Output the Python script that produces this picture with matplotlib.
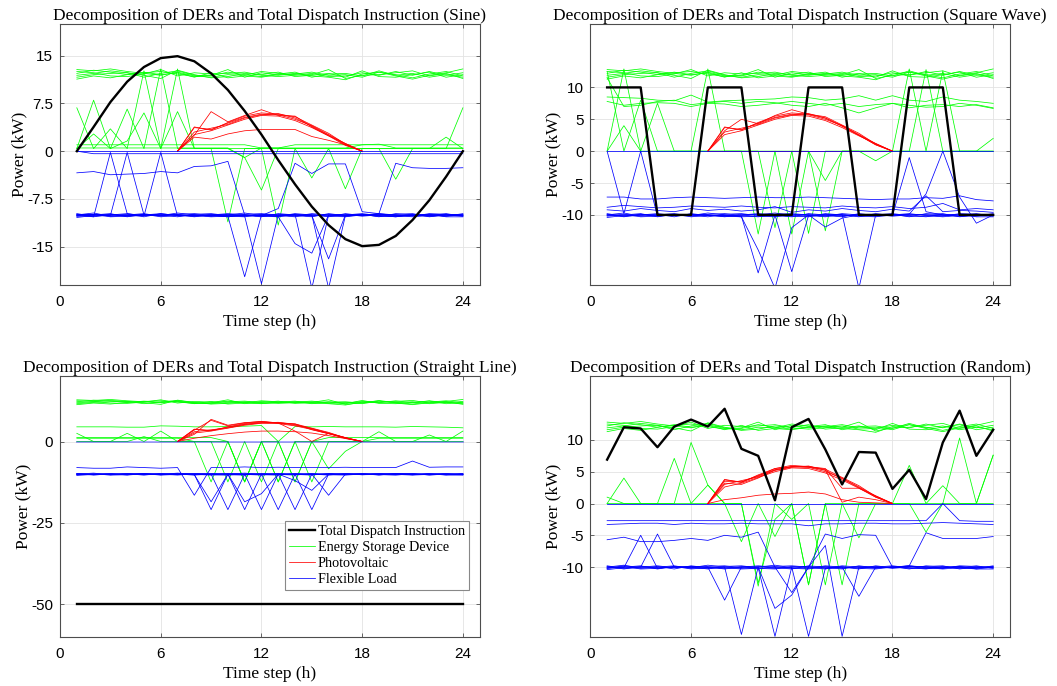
import matplotlib
matplotlib.use('Agg')
import matplotlib.pyplot as plt
from matplotlib.lines import Line2D

plt.rcParams['font.family'] = 'Liberation Serif'
plt.rcParams['axes.unicode_minus'] = False

# --- dane: godziny ---
HOURS = list(range(1, 25))
PV_HOURS = list(range(7, 19))

# --- wspolne pasma ESD (~12 kW) i FL (~-10 kW) ---
GREEN_BAND_1 = [12.8, 12.6, 12.9, 12.5, 12.2, 11.9, 12.4, 11.8, 11.6, 12.0, 11.9, 12.5, 12.2, 12.0, 11.8, 11.6, 11.2, 12.1, 12.4, 11.8, 11.3, 11.9, 12.3, 12.9]
GREEN_BAND_2 = [12.2, 12.7, 12.4, 12.0, 12.3, 12.5, 12.1, 11.7, 11.9, 12.8, 11.6, 12.3, 11.9, 12.2, 12.0, 12.8, 11.4, 11.9, 12.0, 12.3, 12.6, 11.8, 12.2, 11.4]
GREEN_BAND_3 = [11.6, 12.0, 12.2, 12.3, 11.9, 11.4, 12.7, 12.0, 11.5, 11.7, 12.2, 12.0, 12.4, 11.7, 11.9, 12.2, 11.6, 12.6, 11.7, 11.6, 12.0, 12.4, 11.6, 12.0]
GREEN_BAND_4 = [11.3, 11.8, 11.5, 12.0, 12.4, 12.0, 12.3, 11.6, 12.3, 11.5, 11.8, 11.6, 12.0, 12.1, 12.4, 11.9, 12.0, 11.6, 12.4, 12.0, 11.5, 12.1, 12.5, 11.8]
GREEN_BAND_5 = [12.5, 12.3, 11.8, 11.7, 12.1, 12.8, 11.8, 12.3, 12.1, 12.2, 12.4, 11.9, 11.7, 11.9, 12.2, 11.7, 11.8, 12.3, 11.9, 12.5, 11.9, 12.5, 11.9, 12.3]
GREEN_BAND_6 = [11.9, 12.2, 12.6, 12.3, 11.6, 12.2, 12.6, 11.9, 11.8, 12.4, 12.0, 11.7, 12.1, 12.4, 11.6, 12.1, 12.2, 11.8, 12.6, 11.9, 12.2, 11.6, 12.0, 11.6]

BLUE_BAND_1 = [-10.2, -10.0, -9.8, -10.3, -9.9, -10.1, -9.7, -10.0, -10.2, -9.9, -10.1, -10.3, -9.8, -10.0, -10.2, -9.9, -10.0, -9.8, -10.1, -10.3, -9.9, -10.0, -10.2, -9.8]
BLUE_BAND_2 = [-9.8, -10.2, -10.1, -9.9, -10.3, -9.8, -10.1, -10.2, -9.9, -10.0, -9.7, -10.1, -10.2, -9.8, -10.0, -10.3, -9.8, -10.1, -9.9, -10.0, -10.2, -9.8, -9.9, -10.1]
BLUE_BAND_3 = [-10.0, -9.7, -10.2, -10.0, -9.8, -10.2, -9.9, -9.8, -10.1, -10.3, -9.9, -9.8, -10.0, -10.2, -9.8, -10.0, -10.2, -9.9, -10.3, -9.8, -10.0, -10.2, -10.1, -9.9]
BLUE_BAND_4 = [-10.4, -10.1, -10.0, -9.8, -10.1, -10.0, -10.3, -9.9, -9.8, -10.1, -10.2, -10.0, -9.9, -10.1, -10.3, -9.8, -10.1, -10.0, -9.8, -10.1, -10.3, -10.1, -9.8, -10.2]
BLUE_BAND_5 = [-9.9, -10.3, -9.9, -10.1, -10.0, -9.9, -10.0, -10.3, -10.0, -9.8, -10.0, -10.2, -10.3, -9.9, -10.1, -10.1, -9.9, -10.2, -10.0, -9.9, -9.8, -10.3, -10.0, -10.0]
BLUE_BAND_6 = [-10.1, -9.9, -10.3, -10.2, -9.9, -10.3, -10.1, -10.1, -10.3, -10.2, -10.3, -9.9, -10.1, -10.3, -9.9, -10.2, -10.3, -10.0, -10.2, -10.2, -10.1, -9.9, -10.3, -10.3]
BLUE_ZERO = [0.0, 0.0, 0.0, 0.0, 0.0, 0.0, 0.0, 0.0, 0.0, 0.0, 0.0, 0.0, 0.0, 0.0, 0.0, 0.0, 0.0, 0.0, 0.0, 0.0, 0.0, 0.0, 0.0, 0.0]

# --- wspolne krzywe PV (godz. 7-18) ---
PV_1 = [0.0, 3.7, 3.4, 4.4, 5.3, 5.8, 5.7, 5.0, 4.0, 2.6, 1.2, 0.0]
PV_2 = [0.0, 3.8, 3.3, 4.5, 5.5, 6.0, 5.8, 5.4, 4.1, 2.8, 1.1, 0.0]
PV_3 = [0.0, 3.0, 3.6, 4.2, 5.2, 5.7, 5.9, 5.2, 3.9, 2.5, 1.0, 0.0]
PV_4 = [0.0, 2.6, 3.2, 4.1, 5.0, 5.6, 5.5, 4.8, 3.7, 2.4, 1.2, 0.0]

# --- Sine ---
SINE_DISPATCH = [0.0, 3.8, 7.7, 10.9, 13.2, 14.6, 14.9, 14.1, 12.2, 9.6, 6.3, 2.6, -1.4, -5.2, -8.7, -11.6, -13.8, -14.9, -14.7, -13.3, -10.8, -7.7, -4.0, 0.0]
SINE_G1 = [6.8, 0.4, 3.5, 0.4, 12.6, 0.4, 6.2, 0.4, 0.4, 0.4, 0.4, 0.4, 0.4, 0.4, 0.4, 0.4, 0.4, 0.4, 0.4, 0.4, 0.4, 0.4, 2.2, 0.4]
SINE_G2 = [0.4, 8.0, 0.4, 6.6, 0.4, 12.9, 0.4, 0.4, 0.4, -11.1, 0.4, 0.4, -11.6, 0.4, 0.4, 0.4, 0.4, 0.4, 0.4, 0.4, 0.4, 0.4, 0.4, 6.8]
SINE_G3 = [0.4, 2.7, 0.4, 1.6, 6.0, 0.4, 12.9, 0.4, 0.4, 0.4, -1.0, -6.1, 0.4, 0.4, -4.2, 0.4, -5.9, 0.4, 0.4, -4.4, 0.4, 0.4, 0.4, 0.4]
SINE_G4 = [1.0, 1.0, 1.0, 1.0, 1.0, 1.0, 1.0, 1.0, 1.0, 1.0, 1.0, 0.5, 0.5, 1.0, 1.0, 1.0, 1.0, 1.0, 1.0, 1.0, 1.0, 1.0, 1.0, 1.0]
SINE_G5 = [0.5, 0.5, 0.5, 0.5, 0.5, 0.5, 0.5, 0.5, 0.5, 0.5, -1.0, 0.5, 0.5, 0.5, 0.5, 0.5, 0.5, 1.0, 1.1, 0.5, 0.5, 0.5, 0.5, 0.5]
SINE_PV_A = [0.0, 2.5, 6.2, 4.6, 5.6, 6.5, 5.6, 5.5, 3.8, 2.4, 0.9, 0.0]
SINE_PV_B = [0.0, 2.2, 1.9, 2.7, 3.2, 3.4, 3.4, 3.4, 2.3, 1.7, 1.0, 0.0]
SINE_B1 = [-3.4, -3.2, -3.7, -3.6, -3.5, -3.2, -3.4, -2.4, -2.3, -1.6, -10.0, -10.1, -9.0, -1.9, -3.5, -2.0, -2.0, -9.5, -9.8, -1.9, -2.6, -2.7, -2.7, -2.6]
SINE_B2 = [-10.1, -10.3, -0.2, -9.8, -10.2, -0.2, -10.2, -10.0, -10.1, -10.2, -19.7, -10.0, -10.3, -14.5, -16.0, -10.0, -10.1, -10.0, -10.2, -10.1, -10.0, -10.2, -10.0, -10.1]
SINE_B3 = [-9.9, -10.0, -10.1, -0.2, -10.0, -10.1, -9.9, -10.2, -10.0, -10.1, -10.2, -20.8, -10.0, -9.9, -21.5, -10.0, -10.2, -10.0, -9.9, -10.2, -10.1, -10.0, -10.2, -10.0]
SINE_B4 = [-10.0, -9.9, -10.2, -10.1, -10.0, -9.8, -10.1, -10.0, -10.2, -10.0, -10.1, -10.0, -10.2, -10.0, -10.1, -16.9, -10.0, -10.1, -9.8, -10.0, -10.1, -9.9, -10.0, -10.2]
SINE_B5 = [-10.2, -10.0, -9.9, -10.2, -10.1, -10.0, -10.0, -10.1, -10.0, -10.3, -10.0, -10.2, -10.1, -10.0, -10.0, -21.5, -10.1, -9.9, -10.1, -10.3, -10.0, -10.1, -9.9, -10.0]
SINE_B6 = [0.0, -0.4, -0.4, -0.4, -0.4, -0.4, -0.4, -0.4, -0.4, -0.4, -0.4, -0.4, -0.4, -0.4, -0.4, -0.4, -0.4, -0.4, -0.4, -0.4, -0.4, -0.4, -0.4, -0.4]

# --- Square Wave ---
SQ_DISPATCH = [10, 10, 10, -10, -10, -10, 10, 10, 10, -10, -10, -10, 10, 10, 10, -10, -10, -10, 10, 10, 10, -10, -10, -10]
SQ_G_MID1 = [8.5, 8.4, 8.3, 8.0, 7.9, 8.8, 7.7, 7.9, 8.0, 8.1, 8.2, 8.5, 8.4, 8.0, 8.2, 8.7, 8.0, 8.7, 8.0, 7.8, 8.5, 8.0, 7.8, 7.5]
SQ_G_MID2 = [7.8, 7.2, 7.5, 7.6, 7.5, 7.0, 7.5, 7.4, 7.0, 7.2, 7.5, 7.8, 7.5, 7.2, 7.5, 7.0, 7.3, 7.5, 6.8, 7.2, 7.3, 7.0, 7.3, 6.8]
SQ_G_MID3 = [11.5, 7.0, 7.2, 7.8, 8.0, 7.3, 7.6, 7.8, 7.5, 7.8, 7.6, 7.2, 7.0, 7.5, 6.8, 6.0, 6.8, 7.5, 7.2, 6.9, 7.0, 7.5, 7.2, 6.7]
SQ_G1 = [0.0, 12.9, 0.0, 0.0, 0.0, 0.0, 12.9, 0.0, 0.0, -13.0, 0.0, 0.0, 0.0, -4.6, 0.0, 0.0, 0.0, 0.0, 12.9, 0.0, 12.6, 0.0, 0.0, 2.0]
SQ_G2 = [0.0, 4.0, 0.0, 7.5, 0.0, 0.0, 0.0, 0.0, 0.0, 0.0, -12.0, 0.0, -12.9, 0.0, 0.0, 0.0, -1.5, 0.0, 0.0, 0.0, 0.0, 0.0, 0.0, 0.0]
SQ_G3 = [12.5, 0.0, 8.0, 0.0, 0.0, 0.0, 0.0, 0.0, 0.0, 0.0, 0.0, -13.0, 0.0, -12.5, 0.0, 0.0, 0.0, 0.0, 0.0, 12.8, 0.0, 0.0, 0.0, 0.0]
SQ_PV_A = [0.0, 3.2, 5.0, 4.3, 5.6, 6.5, 5.8, 5.2, 4.0, 2.5, 1.0, 0.0]
SQ_PV_B = [0.0, 0.0, 0.0, 0.0, 0.0, 0.0, 0.0, 0.0, 0.0, 0.0, 0.0, 0.0]
SQ_B1 = [0.0, -9.8, 0.0, -10.2, -10.0, -9.9, -10.0, -10.1, -10.2, -19.1, -10.0, -18.9, -10.1, -10.0, -9.9, -21.5, -10.0, -10.1, -1.0, -9.5, -10.0, -10.2, -10.1, -10.0]
SQ_B2 = [-10.0, -10.2, -9.9, -10.1, -10.0, -10.0, -10.1, -10.2, -10.3, -15.5, -21.5, -12.0, -10.0, -11.9, -10.5, -10.0, -10.1, -10.0, -9.9, -6.7, 0.0, -7.2, -11.3, -10.0]
SQ_B3 = [-7.2, -7.2, -7.5, -7.5, -7.3, -7.2, -7.3, -7.4, -7.3, -7.2, -7.3, -7.3, -7.2, -7.3, -7.4, -7.5, -7.6, -7.5, -7.5, -7.3, -7.4, -7.0, -7.6, -7.8]
SQ_B4 = [-8.8, -8.5, -8.7, -8.9, -8.8, -8.6, -8.7, -8.8, -8.6, -8.8, -8.9, -8.7, -8.8, -8.9, -8.6, -8.8, -8.9, -8.7, -9.0, -8.8, -8.2, -9.2, -9.0, -9.2]
SQ_B5 = [-9.2, -9.4, -9.0, -9.3, -9.5, -9.0, -9.3, -9.1, -9.4, -9.2, -8.7, -9.6, -9.2, -9.4, -9.0, -9.3, -9.5, -9.1, -9.4, -7.0, -9.5, -9.3, -9.4, -9.6]

# --- Straight Line ---
ST_DISPATCH = [-50, -50, -50, -50, -50, -50, -50, -50, -50, -50, -50, -50, -50, -50, -50, -50, -50, -50, -50, -50, -50, -50, -50, -50]
ST_G1 = [2.5, 0.0, 0.0, 2.5, 0.0, 3.2, 0.0, 0.0, -12.4, 0.0, -12.4, 0.0, -12.4, 0.0, 0.0, 0.0, 0.0, 0.0, 3.0, 0.0, 0.0, 2.0, 0.0, 3.2]
ST_G2 = [1.0, 1.0, 1.0, 1.0, 1.0, 1.0, 1.0, 0.0, 0.0, -12.4, 0.0, -12.4, 0.0, -12.4, 0.0, -8.4, -3.0, 0.0, 1.0, 1.0, 1.0, 1.0, 1.0, 1.0]
ST_G3 = [4.5, 4.5, 4.5, 4.4, 4.4, 4.8, 4.7, 4.5, 4.5, 4.6, 4.7, 4.9, 0.0, 4.6, 4.5, 4.6, 4.5, 4.5, 4.5, 4.4, 4.6, 4.5, 4.4, 4.2]
ST_G4 = [0.0, 0.0, 0.0, 0.0, 1.5, 0.0, 0.0, 0.0, 0.0, 0.0, -12.4, 0.0, -12.4, 0.0, -12.4, 0.0, 0.0, 0.0, 0.0, 0.0, 0.0, 0.0, 0.0, 0.0]
ST_G5 = [1.2, 1.2, 1.2, 1.2, 1.2, 1.2, 1.2, 1.2, 1.2, 0.0, -12.4, 0.0, 0.0, -12.4, 0.0, 1.2, 1.2, 1.2, 1.2, 1.2, 1.2, 1.2, 1.2, 1.2]
ST_PV_A = [0.0, 2.2, 6.8, 5.0, 5.8, 6.1, 5.6, 5.4, 3.6, 2.4, 1.0, 0.0]
ST_PV_B = [0.0, 3.5, 6.5, 4.8, 5.7, 6.2, 5.7, 3.2, 0.0, 2.5, 1.2, 0.0]
ST_PV_C = [0.0, 1.0, 1.8, 2.4, 2.9, 3.2, 3.2, 3.0, 2.6, 1.8, 0.9, 0.0]
ST_B1 = [-8.0, -8.2, -8.2, -7.8, -8.0, -8.2, -8.0, -16.5, -8.0, -8.0, -7.8, -8.0, -7.9, -8.0, -8.0, -8.0, -7.9, -8.0, -8.0, -8.0, -6.0, -7.9, -7.8, -7.8]
ST_B2 = [-10.0, -10.1, -10.2, -9.9, -10.0, -10.2, -10.0, -10.1, -20.9, -10.0, -20.9, -10.0, -20.9, -10.0, -20.9, -10.0, -10.1, -10.0, -10.2, -10.0, -10.1, -10.2, -10.0, -10.1]
ST_B3 = [-10.2, -10.0, -10.1, -10.2, -9.9, -10.0, -10.1, -10.0, -10.0, -20.9, -10.0, -20.9, -10.0, -20.9, -10.0, -16.5, -10.0, -10.2, -10.1, -10.0, -10.2, -10.0, -10.2, -10.0]
ST_B4 = [-9.9, -10.1, -10.0, -10.1, -10.2, -10.1, -9.9, -10.2, -18.5, -10.0, -18.5, -16.0, -10.0, -12.0, -15.0, -10.0, -10.0, -10.1, -10.0, -9.9, -10.0, -10.1, -10.1, -10.2]

# --- Random ---
RD_DISPATCH = [6.9, 12.0, 11.8, 8.85, 12.1, 13.2, 12.1, 14.9, 8.6, 7.5, 0.5, 12.0, 13.3, 8.5, 3.0, 8.1, 8.0, 2.3, 5.3, 0.7, 9.6, 14.6, 7.5, 11.6]
RD_G1 = [1.0, 0.0, 0.0, 0.0, 7.1, 0.0, 2.9, 0.0, -6.0, 0.0, -5.2, 0.0, -12.8, 0.0, 0.0, -5.4, 0.0, 0.0, 6.0, 0.0, 2.8, 0.0, 0.0, 7.6]
RD_G2 = [0.0, 4.0, 0.0, 0.0, 0.0, 9.6, 2.9, 0.0, 0.0, -13.0, 0.0, -2.5, 0.0, -12.8, 0.0, 0.0, 0.0, 0.0, 0.0, -4.5, 0.0, 10.3, 0.0, 7.6]
RD_G3 = [0.0, 0.0, 0.0, 0.0, 0.0, 0.0, 0.0, 0.0, 0.0, -12.5, -2.5, 0.0, -12.8, 0.0, -12.8, 0.0, 0.0, 0.0, 0.0, 0.0, 0.0, 0.0, 0.0, 0.0]
RD_PV_A = [0.0, 0.6, 0.9, 1.3, 1.5, 1.6, 1.8, 1.5, 0.6, 0.2, 0.1, 0.0]
RD_PV_B = [0.0, 3.5, 3.4, 4.3, 5.5, 5.8, 5.7, 5.3, 0.2, 1.0, 0.6, 0.0]
RD_PV_C = [0.0, 3.2, 3.0, 4.0, 5.3, 5.8, 5.8, 5.5, 2.4, 2.4, 1.0, 0.0]
RD_B1 = [-2.7, -2.7, -2.7, -2.7, -2.7, -2.7, -2.7, -2.7, -2.7, -2.7, -2.7, -2.7, -2.7, -2.7, -2.7, -2.7, -2.7, -2.7, -2.7, -2.7, 0.0, -2.7, -2.8, -2.8]
RD_B2 = [-3.3, -3.2, -3.1, -3.1, -3.3, -3.1, -3.2, -3.2, -3.1, -3.2, -3.2, -3.2, -3.5, -3.2, -3.2, -3.1, -3.1, -3.2, -3.2, -3.1, -3.0, -3.1, -3.2, -3.3]
RD_B3 = [-5.7, -5.3, -6.0, -6.0, -5.8, -5.5, -5.8, -5.0, -5.3, -4.5, -10.0, -14.0, -10.0, -4.8, -5.5, -4.9, -5.0, -10.0, -9.8, -4.6, -5.5, -5.5, -5.5, -5.2]
RD_B4 = [-10.0, -10.1, -5.0, -10.2, -10.0, -9.9, -10.0, -15.2, -10.0, -10.1, -20.9, -10.0, -20.9, -10.2, -10.0, -14.6, -10.0, -10.1, -9.8, -10.0, -10.2, -9.9, -10.1, -10.0]
RD_B5 = [-10.2, -9.8, -10.0, -4.8, -10.0, -10.1, -10.2, -10.0, -20.6, -10.0, -16.5, -14.4, -10.0, -6.6, -20.9, -10.0, -10.1, -10.0, -9.9, -10.2, -10.0, -10.1, -10.3, -10.0]

GREEN_BAND = [GREEN_BAND_1, GREEN_BAND_2, GREEN_BAND_3, GREEN_BAND_4, GREEN_BAND_5, GREEN_BAND_6]
BLUE_BAND = [BLUE_BAND_1, BLUE_BAND_2, BLUE_BAND_3, BLUE_BAND_4, BLUE_BAND_5, BLUE_BAND_6]
PV_SHARED = [PV_1, PV_2, PV_3, PV_4]

GREEN = (0.0, 1.0, 0.0)
RED = (1.0, 0.0, 0.0)
BLUE = (0.0, 0.0, 1.0)
FRAME = '#4d4d4d'


def draw_panel(ax, title, dispatch, greens, reds, blues, ylim, yticks, ylabels, zero_alpha=1.0):
    for g in GREEN_BAND + greens:
        ax.plot(HOURS, g, color=GREEN, lw=0.55)
    for r in PV_SHARED + reds:
        ax.plot(PV_HOURS, r, color=RED, lw=0.55)
    ax.plot(HOURS, BLUE_ZERO, color=BLUE, lw=0.55 if zero_alpha == 1.0 else 1.4, alpha=zero_alpha)
    for b in BLUE_BAND + blues:
        ax.plot(HOURS, b, color=BLUE, lw=0.55)
    ax.plot(HOURS, dispatch, color='k', lw=1.7)

    ax.set_xlim(0, 25)
    ax.set_ylim(*ylim)
    ax.set_xticks([0, 6, 12, 18, 24], labels=['0', '6', '12', '18', '24'],
                  fontfamily='Liberation Sans', fontsize=11)
    ax.set_yticks(yticks, labels=ylabels, fontfamily='Liberation Sans', fontsize=11)
    ax.tick_params(direction='in', length=3, width=0.6, color=FRAME, top=True, right=True)
    ax.tick_params(axis='x', pad=7)
    ax.tick_params(axis='y', pad=5)
    ax.grid(True, color='#e3e3e3', lw=0.6)
    ax.set_axisbelow(True)
    for s in ax.spines.values():
        s.set_color(FRAME)
        s.set_linewidth(0.8)
    ax.set_title(title, fontsize=12.5, pad=3)
    ax.set_xlabel('Time step (h)', fontsize=12.5, labelpad=4)
    ax.set_ylabel('Power (kW)', fontsize=12.5, labelpad=0)


fig = plt.figure(figsize=(10.57, 6.86), dpi=100)
ax_sine = fig.add_axes([0.0568, 0.5845, 0.397, 0.381])
ax_sq = fig.add_axes([0.5585, 0.5845, 0.397, 0.381])
ax_st = fig.add_axes([0.0568, 0.0714, 0.397, 0.380])
ax_rd = fig.add_axes([0.5585, 0.0714, 0.397, 0.380])

draw_panel(ax_sine, 'Decomposition of DERs and Total Dispatch Instruction (Sine)', SINE_DISPATCH,
           [SINE_G1, SINE_G2, SINE_G3, SINE_G4, SINE_G5], [SINE_PV_A, SINE_PV_B],
           [SINE_B1, SINE_B2, SINE_B3, SINE_B4, SINE_B5, SINE_B6],
           (-21, 20), [-15, -7.5, 0, 7.5, 15], ['-15', '-7.5', '0', '7.5', '15'])

draw_panel(ax_sq, 'Decomposition of DERs and Total Dispatch Instruction (Square Wave)', SQ_DISPATCH,
           [SQ_G_MID1, SQ_G_MID2, SQ_G_MID3, SQ_G1, SQ_G2, SQ_G3], [SQ_PV_A, SQ_PV_B],
           [SQ_B1, SQ_B2, SQ_B3, SQ_B4, SQ_B5],
           (-21, 20), [-10, -5, 0, 5, 10], ['-10', '-5', '0', '5', '10'])

draw_panel(ax_st, 'Decomposition of DERs and Total Dispatch Instruction (Straight Line)', ST_DISPATCH,
           [ST_G1, ST_G2, ST_G3, ST_G4, ST_G5], [ST_PV_A, ST_PV_B, ST_PV_C],
           [ST_B1, ST_B2, ST_B3, ST_B4],
           (-60, 20), [-50, -25, 0], ['-50', '-25', '0'], zero_alpha=0.35)

draw_panel(ax_rd, 'Decomposition of DERs and Total Dispatch Instruction (Random)', RD_DISPATCH,
           [RD_G1, RD_G2, RD_G3], [RD_PV_A, RD_PV_B, RD_PV_C],
           [RD_B1, RD_B2, RD_B3, RD_B4, RD_B5],
           (-21, 20), [-10, -5, 0, 5, 10], ['-10', '-5', '0', '5', '10'])

handles = [Line2D([], [], color='k', lw=1.7), Line2D([], [], color=GREEN, lw=0.55),
           Line2D([], [], color=RED, lw=0.55), Line2D([], [], color=BLUE, lw=0.55)]
labels = ['Total Dispatch Instruction', 'Energy Storage Device', 'Photovoltaic', 'Flexible Load']
leg = ax_st.legend(handles, labels, loc='lower right', bbox_to_anchor=(0.975, 0.18),
                   fontsize=10.2, fancybox=False, framealpha=1, edgecolor='#888888',
                   handlelength=1.8, handletextpad=0.2, borderpad=0.3, labelspacing=0.2,
                   borderaxespad=0)
leg.get_frame().set_linewidth(0.8)

fig.savefig('out.png', dpi=100)
